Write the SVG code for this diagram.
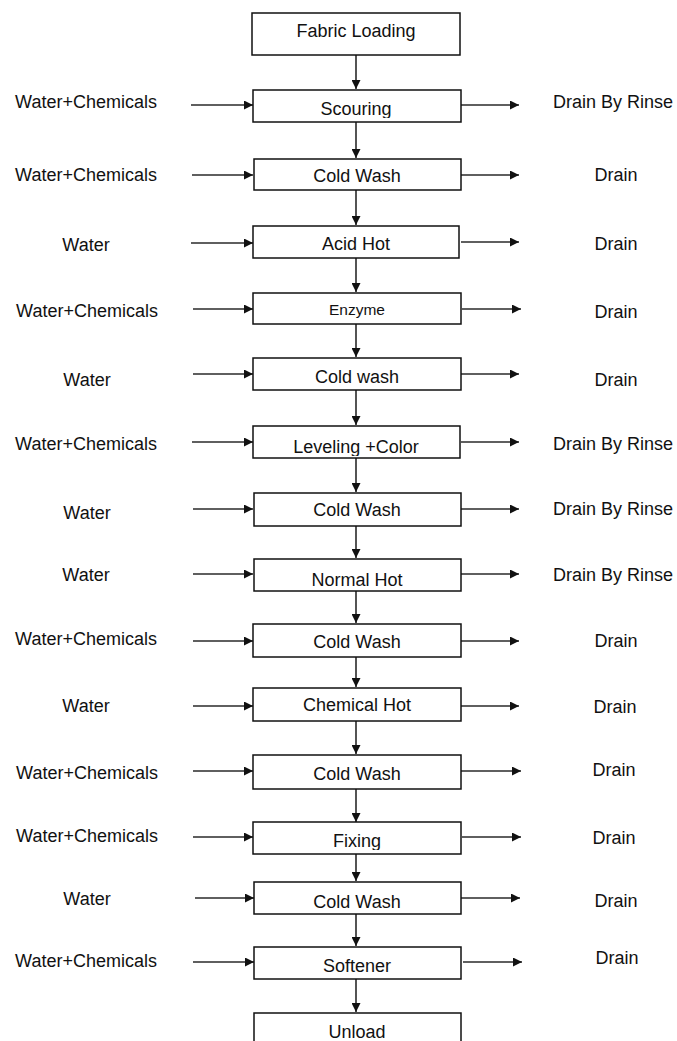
<svg xmlns="http://www.w3.org/2000/svg" width="677" height="1041" viewBox="0 0 677 1041">
<style>
.box{fill:#fff;stroke:#111;stroke-width:1.5}
.t{font-family:"Liberation Sans",Arial,sans-serif;font-size:18px;fill:#111;text-anchor:middle}
.s{font-size:15.5px}
.c{stroke:#2a2a2a;stroke-width:1.6;fill:none;marker-end:url(#ah)}
</style>
<defs>
<marker id="ah" viewBox="0 0 10 10" refX="10" refY="5" markerWidth="10" markerHeight="9" markerUnits="userSpaceOnUse" orient="auto">
<path d="M0,0 L10,5 L0,10 z" fill="#111"/>
</marker>
<clipPath id="c1"><rect x="250" y="85" width="215" height="33"/></clipPath>
<clipPath id="c6"><rect x="250" y="420" width="215" height="36"/></clipPath>
<clipPath id="c12"><rect x="250" y="818" width="215" height="32"/></clipPath>
</defs>
<rect width="677" height="1041" fill="#fff"/>
<g id="connectors">
<line class="c" x1="356" y1="55" x2="356" y2="89"/>
<line class="c" x1="356" y1="122" x2="356" y2="158"/>
<line class="c" x1="356" y1="190" x2="356" y2="225"/>
<line class="c" x1="356" y1="258" x2="356" y2="292"/>
<line class="c" x1="356" y1="324" x2="356" y2="357"/>
<line class="c" x1="356" y1="390" x2="356" y2="425"/>
<line class="c" x1="356" y1="458" x2="356" y2="492"/>
<line class="c" x1="356" y1="526" x2="356" y2="558"/>
<line class="c" x1="356" y1="591" x2="356" y2="623"/>
<line class="c" x1="356" y1="657" x2="356" y2="687"/>
<line class="c" x1="356" y1="721" x2="356" y2="754"/>
<line class="c" x1="356" y1="789" x2="356" y2="822"/>
<line class="c" x1="356" y1="854" x2="356" y2="881"/>
<line class="c" x1="356" y1="914" x2="356" y2="946"/>
<line class="c" x1="356" y1="979" x2="356" y2="1012"/>
<line class="c" x1="191" y1="105" x2="253" y2="105"/>
<line class="c" x1="461" y1="105" x2="519" y2="105"/>
<line class="c" x1="192" y1="175" x2="253" y2="175"/>
<line class="c" x1="461" y1="175" x2="519" y2="175"/>
<line class="c" x1="191" y1="243" x2="253" y2="243"/>
<line class="c" x1="461" y1="242" x2="519" y2="242"/>
<line class="c" x1="193" y1="309" x2="253" y2="309"/>
<line class="c" x1="462" y1="309" x2="521" y2="309"/>
<line class="c" x1="193" y1="374" x2="253" y2="374"/>
<line class="c" x1="461" y1="374" x2="519" y2="374"/>
<line class="c" x1="192" y1="442" x2="253" y2="442"/>
<line class="c" x1="461" y1="442" x2="519" y2="442"/>
<line class="c" x1="193" y1="509" x2="253" y2="509"/>
<line class="c" x1="461" y1="509" x2="519" y2="509"/>
<line class="c" x1="193" y1="574" x2="253" y2="574"/>
<line class="c" x1="461" y1="574" x2="519" y2="574"/>
<line class="c" x1="193" y1="641" x2="253" y2="641"/>
<line class="c" x1="461" y1="641" x2="519" y2="641"/>
<line class="c" x1="193" y1="706" x2="253" y2="706"/>
<line class="c" x1="461" y1="706" x2="519" y2="706"/>
<line class="c" x1="193" y1="771" x2="253" y2="771"/>
<line class="c" x1="461" y1="771" x2="521" y2="771"/>
<line class="c" x1="193" y1="837" x2="253" y2="837"/>
<line class="c" x1="462" y1="837" x2="521" y2="837"/>
<line class="c" x1="195" y1="898" x2="254" y2="898"/>
<line class="c" x1="461" y1="898" x2="520" y2="898"/>
<line class="c" x1="193" y1="962" x2="254" y2="962"/>
<line class="c" x1="463" y1="962" x2="522" y2="962"/>
</g>
<g id="n0"><rect class="box" x="252" y="13" width="208" height="42"/><text class="t" x="356" y="37">Fabric Loading</text></g>
<g id="n1"><rect class="box" x="253" y="90" width="208" height="32"/><text class="t" x="356" y="115" clip-path="url(#c1)">Scouring</text></g>
<g id="n2"><rect class="box" x="254" y="159" width="207" height="31"/><text class="t" x="357" y="182">Cold Wash</text></g>
<g id="n3"><rect class="box" x="253" y="226" width="206" height="32"/><text class="t" x="356" y="250">Acid Hot</text></g>
<g id="n4"><rect class="box" x="253" y="293" width="208" height="31"/><text class="t s" x="357" y="315">Enzyme</text></g>
<g id="n5"><rect class="box" x="253" y="358" width="208" height="32"/><text class="t" x="357" y="383">Cold wash</text></g>
<g id="n6"><rect class="box" x="253" y="426" width="207" height="32"/><text class="t" x="356" y="453" clip-path="url(#c6)">Leveling +Color</text></g>
<g id="n7"><rect class="box" x="254" y="493" width="207" height="33"/><text class="t" x="357" y="516">Cold Wash</text></g>
<g id="n8"><rect class="box" x="254" y="559" width="207" height="32"/><text class="t" x="357" y="586">Normal Hot</text></g>
<g id="n9"><rect class="box" x="253" y="624" width="208" height="33"/><text class="t" x="357" y="648">Cold Wash</text></g>
<g id="n10"><rect class="box" x="253" y="688" width="208" height="33"/><text class="t" x="357" y="711">Chemical Hot</text></g>
<g id="n11"><rect class="box" x="253" y="755" width="208" height="34"/><text class="t" x="357" y="780">Cold Wash</text></g>
<g id="n12"><rect class="box" x="253" y="822" width="208" height="32"/><text class="t" x="357" y="847" clip-path="url(#c12)">Fixing</text></g>
<g id="n13"><rect class="box" x="254" y="882" width="207" height="32"/><text class="t" x="357" y="908">Cold Wash</text></g>
<g id="n14"><rect class="box" x="254" y="947" width="207" height="32"/><text class="t" x="357" y="972">Softener</text></g>
<g id="n15"><rect class="box" x="254" y="1013" width="207" height="40"/><text class="t" x="357" y="1038">Unload</text></g>
<g id="inputs">
<text class="t" x="86" y="108">Water+Chemicals</text>
<text class="t" x="86" y="181">Water+Chemicals</text>
<text class="t" x="86" y="251">Water</text>
<text class="t" x="87" y="317">Water+Chemicals</text>
<text class="t" x="87" y="386">Water</text>
<text class="t" x="86" y="450">Water+Chemicals</text>
<text class="t" x="87" y="519">Water</text>
<text class="t" x="86" y="581">Water</text>
<text class="t" x="86" y="645">Water+Chemicals</text>
<text class="t" x="86" y="712">Water</text>
<text class="t" x="87" y="779">Water+Chemicals</text>
<text class="t" x="87" y="842">Water+Chemicals</text>
<text class="t" x="87" y="905">Water</text>
<text class="t" x="86" y="967">Water+Chemicals</text>
</g>
<g id="outputs">
<text class="t" x="613" y="108">Drain By Rinse</text>
<text class="t" x="616" y="181">Drain</text>
<text class="t" x="616" y="250">Drain</text>
<text class="t" x="616" y="318">Drain</text>
<text class="t" x="616" y="386">Drain</text>
<text class="t" x="613" y="450">Drain By Rinse</text>
<text class="t" x="613" y="515">Drain By Rinse</text>
<text class="t" x="613" y="581">Drain By Rinse</text>
<text class="t" x="616" y="647">Drain</text>
<text class="t" x="615" y="713">Drain</text>
<text class="t" x="614" y="776">Drain</text>
<text class="t" x="614" y="844">Drain</text>
<text class="t" x="616" y="907">Drain</text>
<text class="t" x="617" y="964">Drain</text>
</g>
</svg>
